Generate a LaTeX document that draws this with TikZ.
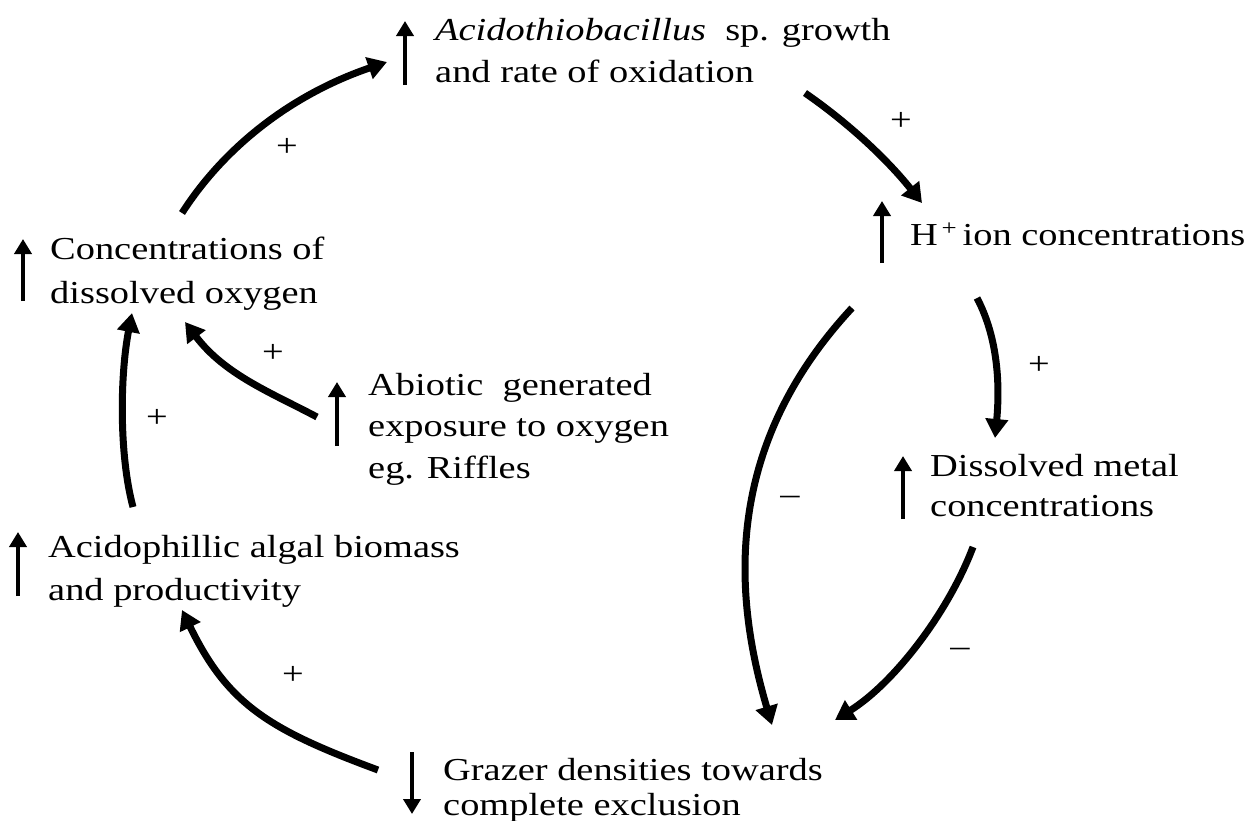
\documentclass[tikz,border=0pt]{standalone}
\usepackage{fontspec}
\setmainfont{Liberation Serif}[FakeStretch=1.2]
\usetikzlibrary{arrows.meta}
\tikzset{
  txt/.style={anchor=base west, inner sep=0pt, align=left, font=\fontsize{32}{#1}\selectfont},
  txt/.default=42,
  lbl/.style={inner sep=0pt, font=\fontsize{32}{42}\selectfont},
  bigarr/.style={line width=7pt, -{Triangle[width=22pt,length=19pt]}},
  smallarr/.style={line width=4.2pt, -{Triangle[width=17pt,length=15pt]}}
}
\begin{document}
\begin{tikzpicture}[x=1pt,y=-1pt]
\useasboundingbox (0,0) rectangle (1257,820);
% text nodes (anchored at the baseline of their last line)
\node[txt=42] (top) at (435,82) {\textit{Acidothiobacillus}\ \ sp. growth\\and rate of oxidation};
\node[txt] (hion) at (910,245) {H\textsuperscript{\,+}\,ion concentrations};
\node[txt=44] (oxy) at (50,303) {Concentrations of\\dissolved oxygen};
\node[txt=41.5] (abio) at (368,478) {Abiotic\ \ generated\\exposure to oxygen\\eg. Riffles};
\node[txt=40] (metal) at (930,516) {Dissolved metal\\concentrations};
\node[txt=43] (alga) at (48,600) {Acidophillic algal biomass\\and productivity};
\node[txt=35] (graz) at (443,815) {Grazer densities towards\\complete exclusion};
% small up/down arrows
\coordinate (u1a) at (405,85); \coordinate (u1b) at (405,21);
\coordinate (u2a) at (882,263); \coordinate (u2b) at (882,201);
\coordinate (u3a) at (23,301); \coordinate (u3b) at (23,239);
\coordinate (u4a) at (337,446); \coordinate (u4b) at (337,382);
\coordinate (u5a) at (903,519); \coordinate (u5b) at (903,456);
\coordinate (u6a) at (18,596); \coordinate (u6b) at (18,532);
\coordinate (u7a) at (412,752); \coordinate (u7b) at (412,814);
\foreach \i in {1,...,7} \draw[smallarr] (u\i a) -- (u\i b);
% big arrows
\coordinate (a1s) at (182,213); \coordinate (a1e) at (387,62);
\draw[bigarr] (a1s) .. controls (227,143) and (296,93) .. (a1e);
\coordinate (a2s) at (805,93); \coordinate (a2e) at (922,203);
\draw[bigarr] (a2s) .. controls (847,122) and (886,158) .. (a2e);
\coordinate (a3s) at (977,298); \coordinate (a3e) at (995,438);
\draw[bigarr] (a3s) .. controls (998,338) and (1000,385) .. (a3e);
\coordinate (a4s) at (852,308); \coordinate (a4e) at (772,725);
\draw[bigarr] (a4s) .. controls (720,450) and (735,600) .. (a4e);
\coordinate (a5s) at (973,547); \coordinate (a5e) at (835,720);
\draw[bigarr] (a5s) .. controls (948,613) and (894,683) .. (a5e);
\coordinate (a6s) at (378,770); \coordinate (a6e) at (182,610);
\draw[bigarr] (a6s) .. controls (270,730) and (228,705) .. (a6e);
\coordinate (a7s) at (133,507); \coordinate (a7e) at (132,313);
\draw[bigarr] (a7s) .. controls (119,455) and (120,375) .. (a7e);
\coordinate (a8s) at (317,417); \coordinate (a8e) at (185,322);
\draw[bigarr] (a8s) .. controls (272,393) and (225,375) .. (a8e);
% signs
\node[lbl] (p1) at (287,147) {+};
\node[lbl] (p2) at (901,121) {+};
\node[lbl] (p3) at (1039,365) {+};
\node[lbl] (m4) at (790,500) {–};
\node[lbl] (m5) at (960,652) {–};
\node[lbl] (p6) at (293,675) {+};
\node[lbl] (p7) at (157,418) {+};
\node[lbl] (p8) at (273,353) {+};
\end{tikzpicture}
\end{document}
